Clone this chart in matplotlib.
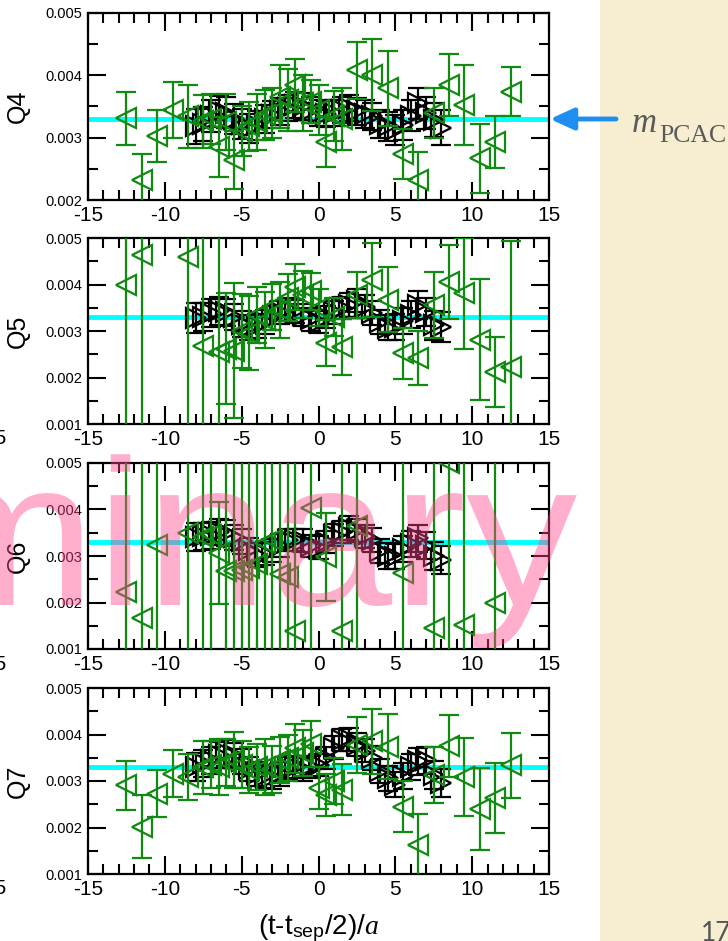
import numpy as np
import matplotlib
matplotlib.use('Agg')
import matplotlib.pyplot as plt
from matplotlib.patches import Rectangle, PathPatch
from matplotlib.textpath import TextPath
from matplotlib.font_manager import FontProperties
from matplotlib.transforms import Affine2D
from matplotlib.ticker import MultipleLocator, FormatStrFormatter

plt.rcParams['font.family'] = ['Liberation Sans', 'DejaVu Sans']
plt.rcParams['axes.unicode_minus'] = False
plt.rcParams['mathtext.fontset'] = 'custom'
plt.rcParams['mathtext.rm'] = 'Liberation Sans'
plt.rcParams['mathtext.it'] = 'Liberation Serif:italic'

nan = np.nan
m_pcac = 0.0033
big = 0.01  # error bar running off the panel

# time slices (t - tsep/2)/a
black_t = [-8, -7.5, -7, -6.5, -6, -5.5, -5, -4.5, -4, -3.5, -3, -2.5, -2, -1.5, -1, -0.5, 0,
           0.5, 1, 1.5, 2, 2.5, 3, 3.5, 4, 4.5, 5, 5.5, 6, 6.5, 7, 7.5, 8]
green_t = [-12.5, -11.5, -10.5, -9.5, -8.5, -7.5, -6.5, -5.5, -4.5, -3.5, -2.5, -1.5, -0.5,
           0.5, 1.5, 2.5, 3.5, 4.5, 5.5, 6.5, 7.5, 8.5, 9.5, 10.5, 11.5, 12.5]
green2_t = [-7, -6, -5, -4, -3, -2, -1, 0, 1]

# Q4
q4_black = [0.00318, 0.00322, 0.00335, 0.00342, 0.00340, 0.00330, 0.00322, 0.00315, 0.00320, 0.00330, 0.00337,
            0.00342, 0.00348, 0.00352, 0.00350, 0.00345, 0.00340, 0.00338, 0.00340, 0.00345, 0.00348, 0.00342,
            0.00338, 0.00334, 0.00322, 0.00318, 0.00312, 0.00320, 0.00335, 0.00355, 0.00340, 0.00328, 0.00316]
q4_black_err = [0.00028, 0.00027, 0.00026, 0.00025, 0.00025, 0.00024, 0.00024, 0.00023, 0.00023, 0.00022, 0.00022,
                0.00022, 0.00021, 0.00021, 0.00021, 0.00021, 0.00021, 0.00021, 0.00021, 0.00021, 0.00021, 0.00022,
                0.00022, 0.00022, 0.00023, 0.00023, 0.00024, 0.00024, 0.00025, 0.00025, 0.00026, 0.00027, 0.00028]
q4_green = [0.00331, 0.00232, 0.00303, 0.00344, 0.00334, 0.00326, 0.00285, 0.00264, 0.00318, 0.00337, 0.00366,
            0.00384, 0.00358, 0.00293, 0.00330, 0.00408, 0.00400, 0.00379, 0.00274, 0.00232, 0.00339, 0.00384,
            0.00352, 0.00267, 0.00293, 0.00374]
q4_green_err = [0.00043, 0.00042, 0.00042, 0.00045, 0.00050, 0.00042, 0.00048, 0.00046, 0.00040, 0.00040, 0.00050,
                0.00043, 0.00035, 0.00040, 0.00050, 0.00046, 0.00058, 0.00060, 0.00040, 0.00045, 0.00040, 0.00050,
                0.00064, 0.00055, 0.00042, 0.00040]
q4_green2 = [0.00330, 0.00325, 0.00310, 0.00325, 0.00340, 0.00360, 0.00355, 0.00345, 0.00335]
q4_green2_err = [0.00040, 0.00045, 0.00040, 0.00045, 0.00040, 0.00050, 0.00045, 0.00040, 0.00040]

# Q5
q5_black = [0.00328, 0.00330, 0.00338, 0.00343, 0.00340, 0.00330, 0.00315, 0.00308, 0.00310, 0.00320, 0.00328,
            0.00340, 0.00347, 0.00342, 0.00335, 0.00325, 0.00320, 0.00330, 0.00340, 0.00350, 0.00356, 0.00365,
            0.00352, 0.00338, 0.00320, 0.00307, 0.00308, 0.00322, 0.00335, 0.00355, 0.00340, 0.00312, 0.00308]
q5_black_err = [0.00032, 0.00031, 0.00030, 0.00030, 0.00029, 0.00028, 0.00028, 0.00027, 0.00026, 0.00026, 0.00025,
                0.00025, 0.00025, 0.00024, 0.00024, 0.00024, 0.00024, 0.00024, 0.00024, 0.00024, 0.00025, 0.00025,
                0.00025, 0.00026, 0.00026, 0.00027, 0.00028, 0.00028, 0.00029, 0.00030, 0.00030, 0.00031, 0.00032]
q5_green = [0.00399, 0.00463, nan, nan, 0.00460, 0.00268, 0.00255, 0.00258, 0.00296, 0.00324, 0.00345,
            0.00395, 0.00385, 0.00274, 0.00265, 0.00377, 0.00410, 0.00367, 0.00252, 0.00241, 0.00356, 0.00406,
            0.00381, 0.00281, 0.00212, 0.00223]
q5_green_err = [big, big, nan, nan, big, big, big, 0.00145, 0.00080, 0.00060, 0.00060,
                0.00050, 0.00040, 0.00050, 0.00060, 0.00050, 0.00080, 0.00070, 0.00055, 0.00058, 0.00070, 0.00080,
                0.00120, 0.00130, 0.00075, 0.00270]
q5_green2 = [nan, 0.00262, 0.00300, 0.00335, 0.00352, 0.00372, 0.00378, 0.00350, 0.00330]
q5_green2_err = [nan, 0.00120, 0.00080, 0.00060, 0.00050, 0.00050, 0.00050, 0.00040, 0.00040]

# Q6
q6_black = [0.00340, 0.00342, 0.00345, 0.00352, 0.00350, 0.00340, 0.00332, 0.00312, 0.00303, 0.00305, 0.00312,
            0.00322, 0.00335, 0.00335, 0.00333, 0.00322, 0.00318, 0.00330, 0.00345, 0.00352, 0.00360, 0.00355,
            0.00342, 0.00335, 0.00310, 0.00300, 0.00298, 0.00315, 0.00325, 0.00338, 0.00322, 0.00300, 0.00292]
q6_black_err = [0.00030, 0.00029, 0.00029, 0.00028, 0.00028, 0.00027, 0.00027, 0.00026, 0.00026, 0.00025, 0.00025,
                0.00025, 0.00024, 0.00024, 0.00024, 0.00024, 0.00024, 0.00024, 0.00024, 0.00024, 0.00025, 0.00025,
                0.00025, 0.00026, 0.00026, 0.00027, 0.00027, 0.00028, 0.00028, 0.00029, 0.00029, 0.00030, 0.00030]
q6_green = [0.00223, 0.00166, 0.00324, nan, 0.00349, 0.00340, 0.00306, 0.00267, 0.00274, 0.00328, 0.00261,
            0.00138, 0.00403, 0.00298, 0.00138, 0.00365, nan, nan, 0.00263, nan, 0.00145, 0.00500,
            0.00152, nan, 0.00198, nan]
q6_green_err = [big, big, big, nan, big, big, 0.00110, big, big, big, big,
                big, big, 0.00095, big, big, nan, nan, big, nan, big, big,
                big, nan, big, nan]
q6_green2 = [0.00345, 0.00268, 0.00270, 0.00282, 0.00335, 0.00255, nan, nan, nan]
q6_green2_err = [big, big, big, big, big, big, nan, nan, nan]

# Q7
q7_black = [0.00330, 0.00338, 0.00345, 0.00355, 0.00360, 0.00355, 0.00342, 0.00325, 0.00315, 0.00310, 0.00308,
            0.00315, 0.00328, 0.00330, 0.00325, 0.00330, 0.00335, 0.00350, 0.00372, 0.00388, 0.00390, 0.00378,
            0.00365, 0.00350, 0.00322, 0.00306, 0.00292, 0.00310, 0.00330, 0.00342, 0.00345, 0.00312, 0.00296]
q7_black_err = [0.00030, 0.00029, 0.00029, 0.00028, 0.00028, 0.00027, 0.00027, 0.00026, 0.00026, 0.00025, 0.00025,
                0.00025, 0.00024, 0.00024, 0.00024, 0.00024, 0.00024, 0.00024, 0.00024, 0.00024, 0.00025, 0.00025,
                0.00025, 0.00026, 0.00026, 0.00027, 0.00027, 0.00028, 0.00028, 0.00029, 0.00029, 0.00030, 0.00030]
q7_green = [0.00291, 0.00202, 0.00273, 0.00316, 0.00309, 0.00330, 0.00330, 0.00345, 0.00324, 0.00330, 0.00345,
            0.00370, 0.00380, 0.00270, 0.00281, 0.00377, 0.00385, 0.00374, 0.00245, 0.00162, 0.00313, 0.00375,
            0.00309, 0.00240, 0.00263, 0.00334]
q7_green_err = [0.00053, 0.00068, 0.00050, 0.00050, 0.00050, 0.00057, 0.00060, 0.00060, 0.00050, 0.00060, 0.00050,
                0.00052, 0.00050, 0.00045, 0.00055, 0.00060, 0.00070, 0.00070, 0.00055, 0.00067, 0.00060, 0.00066,
                0.00084, 0.00088, 0.00075, 0.00070]
q7_green2 = [0.00335, 0.00340, 0.00335, 0.00330, 0.00325, 0.00350, 0.00360, 0.00285, 0.00300]
q7_green2_err = [0.00050, 0.00050, 0.00050, 0.00050, 0.00050, 0.00050, 0.00050, 0.00045, 0.00050]

W, H = 728, 941
fig = plt.figure(figsize=(W / 100, H / 100), dpi=100)

# beige slide margin on the right
fig.add_artist(Rectangle((600 / W, 0), 128 / W, 1, transform=fig.transFigure,
                         facecolor='#f7eed2', edgecolor='none', zorder=-5))

green = '#118a11'
panels = [
    ('Q4', 13, 200, 0.002, q4_black, q4_black_err, q4_green, q4_green_err, q4_green2, q4_green2_err),
    ('Q5', 238, 424, 0.001, q5_black, q5_black_err, q5_green, q5_green_err, q5_green2, q5_green2_err),
    ('Q6', 463, 649, 0.001, q6_black, q6_black_err, q6_green, q6_green_err, q6_green2, q6_green2_err),
    ('Q7', 688, 874, 0.001, q7_black, q7_black_err, q7_green, q7_green_err, q7_green2, q7_green2_err),
]

axes = []
for name, top, bottom, ymin, bl, ble, gr, gre, gr2, gre2 in panels:
    ax = fig.add_axes([88 / W, 1 - bottom / H, (549 - 88) / W, (bottom - top) / H])
    axes.append(ax)
    ax.axhline(m_pcac, color='#00ffff', lw=3.5, zorder=1)
    ax.errorbar(black_t, bl, yerr=ble, fmt='>', ms=14, mfc='none', mec='black', mew=1.6,
                color='black', elinewidth=1.6, capsize=7, capthick=1.6, zorder=2)
    for t, v, e in [(green_t, gr, gre), (green2_t, gr2, gre2)]:
        ax.errorbar(t, v, yerr=e, fmt='<', ms=14, mfc='none', mec=green, mew=1.6,
                    color=green, elinewidth=1.6, capsize=7, capthick=1.6, zorder=3)
    ax.set_xlim(-15, 15)
    ax.set_ylim(ymin, 0.005)
    ax.xaxis.set_major_locator(MultipleLocator(5))
    ax.xaxis.set_minor_locator(MultipleLocator(1))
    ax.yaxis.set_major_locator(MultipleLocator(0.001))
    ax.yaxis.set_minor_locator(MultipleLocator(0.0005))
    ax.yaxis.set_major_formatter(FormatStrFormatter('%.3f'))
    ax.tick_params(which='both', direction='in', top=True, right=True, width=1.5)
    ax.tick_params(which='major', length=13)
    ax.tick_params(which='minor', length=7)
    ax.tick_params(axis='x', labelsize=15, pad=4)
    ax.tick_params(axis='y', labelsize=10.5, pad=4)
    for s in ax.spines.values():
        s.set_linewidth(1.6)
    ax.set_ylabel(name, fontsize=18, va='center')
    ax.yaxis.set_label_coords(-0.153, 0.5)

    # edge of the neighbouring column's tick labels
    if name != 'Q4':
        fig.text(7 / W, 1 - (bottom + 15) / H, '15', ha='right', va='center', fontsize=15)

fig.text(318.5 / W, 1 - 934 / H, r'(t-$\mathrm{t}_{\mathrm{sep}}$/2)/$\mathit{a}$',
         ha='center', va='baseline', fontsize=20)

# arrow pointing at the fitted PCAC mass
axes[0].annotate('', xy=(550, H - 119), xycoords='figure pixels',
                 xytext=(616, H - 119), textcoords='figure pixels',
                 arrowprops=dict(arrowstyle='-|>,head_length=1.2,head_width=0.55',
                                 mutation_scale=12, color='#1e8ff0', lw=3.5,
                                 shrinkA=0, shrinkB=0),
                 annotation_clip=False)
fig.text(632 / W, 1 - 132 / H, 'm', family='Liberation Serif', style='italic',
         fontsize=25, color='#5a5a5a', va='baseline')
fig.text(659 / W, 1 - 142 / H, 'PCAC', family='Liberation Serif',
         fontsize=18.5, color='#5a5a5a', va='baseline')

fig.text(701 / W, 1 - 921 / H, '17', family='Lato', fontsize=19, color='#555555', va='top')

# watermark, slightly widened sans lettering drawn in pixel units
wm = TextPath((0, 0), 'minary', size=1, prop=FontProperties(family='Liberation Sans'))
wm_tf = Affine2D().scale(222, 208).translate(-89, H - 605)
fig.add_artist(PathPatch(wm, transform=wm_tf, facecolor='#ff468c', edgecolor='none',
                         alpha=0.43, zorder=10))

fig.savefig('out.png', dpi=100)
